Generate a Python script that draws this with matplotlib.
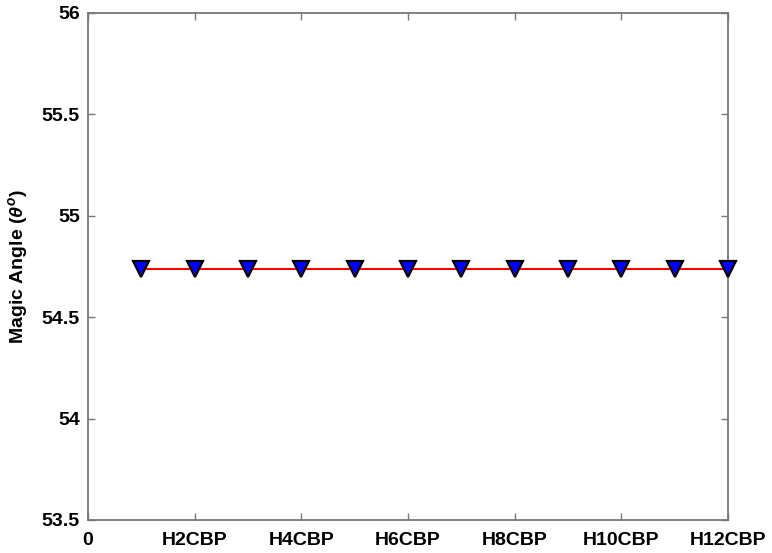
import numpy as np
import matplotlib
matplotlib.use('Agg')
import matplotlib.pyplot as plt

# compounds H1CBP..H12CBP, magic angle in degrees
xpos = [1, 2, 3, 4, 5, 6, 7, 8, 9, 10, 11, 12]
angle = [54.736, 54.736, 54.736, 54.736, 54.736, 54.736, 54.736, 54.736, 54.736, 54.736, 54.736, 54.736]
tick_pos = [0, 2, 4, 6, 8, 10, 12]
tick_labels = ['0', 'H2CBP', 'H4CBP', 'H6CBP', 'H8CBP', 'H10CBP', 'H12CBP']
y_ticks = [53.5, 54, 54.5, 55, 55.5, 56]

plt.rcParams['font.family'] = ['Liberation Sans', 'DejaVu Sans']
plt.rcParams['font.weight'] = 'bold'
plt.rcParams['mathtext.fontset'] = 'custom'
plt.rcParams['mathtext.it'] = 'Liberation Sans:italic:bold'
plt.rcParams['mathtext.rm'] = 'Liberation Sans:bold'

fig = plt.figure(figsize=(7.72, 5.53), dpi=100)
ax = fig.add_axes([0.114, 0.0597, 0.829, 0.917])

ax.plot(xpos, angle, color='red', lw=1.5, zorder=2)
ax.plot(xpos, angle, linestyle='none', marker='v', ms=12, mfc='blue',
        mec='black', mew=1.6, zorder=3, clip_on=False)

ax.set_xlim(0, 12)
ax.set_ylim(53.5, 56)
ax.set_xticks(tick_pos)
ax.set_xticklabels(tick_labels)
ax.set_yticks(y_ticks)
ax.set_yticklabels(['53.5', '54', '54.5', '55', '55.5', '56'])
ax.tick_params(direction='in', top=True, right=True, labelsize=14,
               color='#777777', length=5, width=1, pad=6)
ax.tick_params(axis='x', pad=9)
for sp in ax.spines.values():
    sp.set_color('#777777')
    sp.set_linewidth(1.3)
ax.set_ylabel(r'Magic Angle ($\theta^o$)', fontsize=14, fontweight='bold', labelpad=8)

plt.savefig('out.png', dpi=100)
